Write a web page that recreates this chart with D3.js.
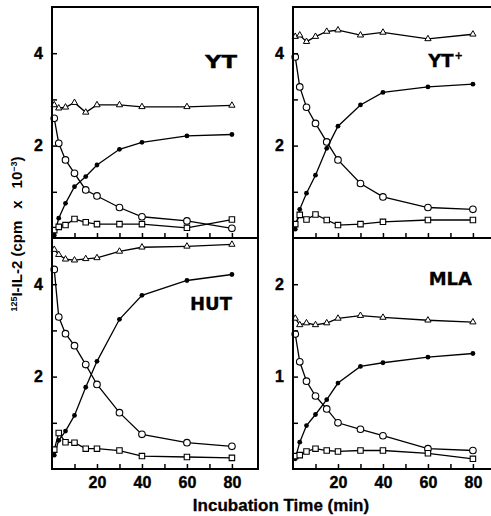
<!DOCTYPE html>
<html>
<head>
<meta charset="utf-8">
<title>125I-IL-2 binding</title>
<style>
body { margin: 0; background: #fff; }
svg { display: block; }
.tick text { font: bold 16px "Liberation Sans", Arial, sans-serif; fill: #000; stroke: #000; stroke-width: 0.4; }
.tick line { stroke: #000; stroke-width: 1.5; }
.plabel { font: bold 18px "DejaVu Sans", sans-serif; stroke: #000; stroke-width: 0.3; }
.xlabel { font: bold 17px "Liberation Sans", Arial, sans-serif; stroke: #000; stroke-width: 0.3; }
.ylabel { font: bold 15px "Liberation Sans", Arial, sans-serif; }
</style>
</head>
<body>
<svg width="491" height="516"></svg>
<script src="https://d3js.org/d3.v7.min.js"></script>
<script>

// incubation times (min)
var times = [1, 3, 6, 10, 15, 20, 30, 40, 60, 80];

// YT
var ytTri    = [2.88, 2.81, 2.83, 2.93, 2.72, 2.88, 2.88, 2.84, 2.84, 2.87];
var ytOpen   = [2.59, 2.05, 1.69, 1.40, 1.04, 0.91, 0.66, 0.46, 0.37, 0.21];
var ytFilled = [0.06, 0.43, 0.75, 1.11, 1.33, 1.58, 1.92, 2.07, 2.21, 2.24];
var ytSquare = [0.17, 0.24, 0.28, 0.41, 0.34, 0.30, 0.30, 0.30, 0.22, 0.40];

// YT+
var ytpTri    = [4.36, 4.39, 4.25, 4.36, 4.47, 4.50, 4.39, 4.45, 4.31, 4.41];
var ytpOpen   = [3.92, 3.27, 2.83, 2.48, 2.08, 1.69, 1.18, 0.89, 0.66, 0.62];
var ytpFilled = [0.19, 0.62, 0.97, 1.36, 1.94, 2.42, 2.88, 3.15, 3.27, 3.33];
var ytpSquare = [0.30, 0.50, 0.40, 0.51, 0.39, 0.28, 0.30, 0.35, 0.39, 0.39];

// HUT
var hutTri    = [4.75, 4.64, 4.54, 4.52, 4.55, 4.57, 4.71, 4.80, 4.82, 4.86];
var hutOpen   = [4.32, 3.29, 2.93, 2.67, 2.26, 1.83, 1.22, 0.75, 0.57, 0.49];
var hutFilled = [0.30, 0.62, 0.82, 1.16, 1.77, 2.33, 3.24, 3.76, 4.08, 4.21];
var hutSquare = [0.42, 0.78, 0.58, 0.57, 0.44, 0.44, 0.40, 0.28, 0.26, 0.24];

// MLA
var mlaTri    = [1.63, 1.56, 1.58, 1.56, 1.58, 1.63, 1.66, 1.64, 1.61, 1.59];
var mlaOpen   = [1.46, 1.16, 0.95, 0.79, 0.65, 0.50, 0.43, 0.36, 0.22, 0.20];
var mlaFilled = [0.11, 0.29, 0.47, 0.59, 0.75, 0.93, 1.11, 1.15, 1.21, 1.25];
var mlaSquare = [0.14, 0.15, 0.19, 0.22, 0.20, 0.19, 0.20, 0.20, 0.17, 0.11];

var xTicks = [10, 20, 30, 40, 50, 60, 70, 80];
var xLabels = [20, 40, 60, 80];

var svg = d3.select("svg");
var pw = 206, ph = 231;

var panels = [
  {name: "YT",  sup: "",  left: 52,  bottom: 238, ymax: 5,   yticks: [1, 2, 3, 4], ylab: [2, 4], lx: 185, ly: 61, len: 32, xlab: false,
   series: [ytTri, ytOpen, ytFilled, ytSquare]},
  {name: "YT",  sup: "+", left: 293, bottom: 238, ymax: 5,   yticks: [1, 2, 3, 4], ylab: [2, 4], lx: 170, ly: 60, len: 0, xlab: false,
   series: [ytpTri, ytpOpen, ytpFilled, ytpSquare]},
  {name: "HUT", sup: "",  left: 52,  bottom: 469, ymax: 5,   yticks: [1, 2, 3, 4], ylab: [2, 4], lx: 180, ly: 72, len: 0, xlab: true,
   series: [hutTri, hutOpen, hutFilled, hutSquare]},
  {name: "MLA", sup: "",  left: 293, bottom: 469, ymax: 2.5, yticks: [0.5, 1, 1.5, 2], ylab: [1, 2], lx: 179, ly: 47, len: 0, xlab: true,
   series: [mlaTri, mlaOpen, mlaFilled, mlaSquare]}
];

var tri = d3.symbol().type(d3.symbolTriangle).size(17);
var sq = d3.symbol().type(d3.symbolSquare).size(30);

panels.forEach(function(p) {
  var x = d3.scaleLinear().domain([0, 91.6]).range([p.left, p.left + pw]);
  var y = d3.scaleLinear().domain([0, p.ymax]).range([p.bottom, p.bottom - ph]);
  var g = svg.append("g");

  var line = d3.line()
    .x(function(d, i) { return x(times[i]); })
    .y(function(d) { return y(d); });

  p.series.forEach(function(s, k) {
    g.append("path")
      .attr("d", line(s))
      .attr("fill", "none")
      .attr("stroke", "#000")
      .attr("stroke-width", 1.3);

    var pts = g.selectAll(null).data(s).enter();
    if (k == 0) {
      pts.append("path")
        .attr("d", tri)
        .attr("transform", function(d, i) { return "translate(" + x(times[i]) + "," + y(d) + ")"; })
        .attr("fill", "#fff").attr("stroke", "#000").attr("stroke-width", 1);
    } else if (k == 1) {
      pts.append("circle")
        .attr("cx", function(d, i) { return x(times[i]); })
        .attr("cy", function(d) { return y(d); })
        .attr("r", 3.3)
        .attr("fill", "#fff").attr("stroke", "#000").attr("stroke-width", 1.1);
    } else if (k == 2) {
      pts.append("circle")
        .attr("cx", function(d, i) { return x(times[i]); })
        .attr("cy", function(d) { return y(d); })
        .attr("r", 2.4)
        .attr("fill", "#000");
    } else {
      pts.append("path")
        .attr("d", sq)
        .attr("transform", function(d, i) { return "translate(" + x(times[i]) + "," + y(d) + ")"; })
        .attr("fill", "#fff").attr("stroke", "#000").attr("stroke-width", 1.1);
    }
  });

  // frame
  g.append("rect")
    .attr("x", p.left).attr("y", p.bottom - ph)
    .attr("width", pw).attr("height", ph)
    .attr("fill", "none").attr("stroke", "#000").attr("stroke-width", 2);

  g.append("g")
    .attr("transform", "translate(" + p.left + ",0)")
    .call(d3.axisLeft(y).tickValues(p.yticks).tickSize(-5).tickPadding(9)
      .tickFormat(function(d) { return p.ylab.indexOf(d) >= 0 ? d : ""; }))
    .call(function(a) { a.select(".domain").remove(); });

  g.append("g")
    .attr("transform", "translate(0," + p.bottom + ")")
    .call(d3.axisBottom(x).tickValues(xTicks).tickSize(-5).tickPadding(8)
      .tickFormat(function(d) { return p.xlab && xLabels.indexOf(d) >= 0 ? d : ""; }))
    .call(function(a) { a.select(".domain").remove(); });

  var t = g.append("text")
    .attr("class", "plabel")
    .attr("x", p.left + p.lx)
    .attr("y", p.bottom - ph + p.ly)
    .attr("text-anchor", "end");
  var main = t.append("tspan").text(p.name);
  if (p.len) main.attr("textLength", p.len).attr("lengthAdjust", "spacingAndGlyphs");
  if (p.sup) {
    t.append("tspan").attr("font-size", 10).attr("dx", 1).attr("dy", -8).text(p.sup);
  }
});

svg.append("text")
  .attr("class", "xlabel")
  .attr("x", 281).attr("y", 511)
  .attr("text-anchor", "middle")
  .text("Incubation Time (min)");

var yl = svg.append("text")
  .attr("class", "ylabel")
  .attr("transform", "translate(22,234) rotate(-90)")
  .attr("text-anchor", "middle");
yl.append("tspan").attr("font-size", 9).attr("dy", -5).text("125");
yl.append("tspan").attr("dy", 5).text("I-IL-2 (cpm");
yl.append("tspan").attr("dx", 12).text("x");
yl.append("tspan").attr("dx", 12).text("10");
yl.append("tspan").attr("font-size", 9).attr("dy", -5).text("\u22123");
yl.append("tspan").attr("dy", 5).text(")");

</script>
</body>
</html>
